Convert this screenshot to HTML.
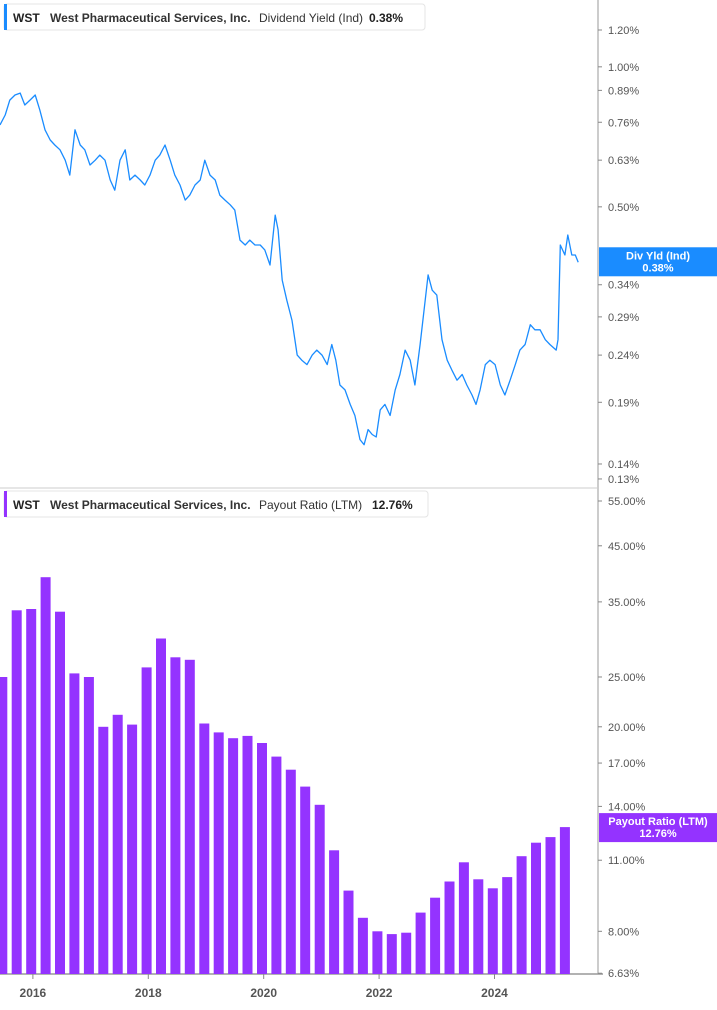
<!DOCTYPE html>
<html><head><meta charset="utf-8"><style>
body{margin:0;background:#fff;font-family:"Liberation Sans",sans-serif;}
svg text{font-family:"Liberation Sans",sans-serif;}
</style></head><body>
<svg id="c" width="717" height="1005" xmlns="http://www.w3.org/2000/svg">
</svg>
<script>
const yldDates=[2015.43,2015.52,2015.60,2015.69,2015.78,2015.86,2015.95,2016.04,2016.12,2016.21,2016.30,2016.38,2016.47,2016.56,2016.64,2016.73,2016.82,2016.90,2016.99,2017.08,2017.16,2017.25,2017.34,2017.42,2017.51,2017.60,2017.68,2017.77,2017.86,2017.94,2018.03,2018.12,2018.20,2018.29,2018.38,2018.46,2018.55,2018.64,2018.72,2018.81,2018.90,2018.98,2019.07,2019.16,2019.24,2019.33,2019.42,2019.50,2019.59,2019.68,2019.76,2019.85,2019.94,2020.02,2020.11,2020.20,2020.25,2020.32,2020.40,2020.49,2020.58,2020.66,2020.75,2020.84,2020.92,2021.01,2021.10,2021.18,2021.25,2021.32,2021.41,2021.50,2021.58,2021.67,2021.74,2021.81,2021.88,2021.95,2022.02,2022.10,2022.19,2022.28,2022.36,2022.45,2022.54,2022.62,2022.71,2022.80,2022.85,2022.92,2023.00,2023.09,2023.18,2023.26,2023.35,2023.44,2023.52,2023.61,2023.68,2023.75,2023.84,2023.92,2024.01,2024.10,2024.18,2024.27,2024.36,2024.44,2024.53,2024.62,2024.70,2024.79,2024.88,2024.96,2025.07,2025.10,2025.14,2025.22,2025.27,2025.34,2025.40,2025.45];
const yldValues=[0.750,0.788,0.848,0.870,0.878,0.828,0.848,0.870,0.808,0.732,0.696,0.679,0.663,0.630,0.585,0.732,0.679,0.663,0.615,0.630,0.646,0.630,0.571,0.543,0.630,0.663,0.571,0.585,0.571,0.557,0.585,0.630,0.646,0.679,0.630,0.585,0.557,0.517,0.530,0.557,0.571,0.630,0.585,0.571,0.530,0.517,0.505,0.492,0.424,0.414,0.424,0.414,0.414,0.404,0.375,0.480,0.446,0.348,0.315,0.285,0.240,0.234,0.229,0.240,0.246,0.240,0.229,0.253,0.234,0.207,0.202,0.188,0.178,0.158,0.154,0.166,0.162,0.160,0.183,0.188,0.178,0.202,0.218,0.246,0.234,0.207,0.253,0.315,0.357,0.331,0.323,0.259,0.234,0.223,0.212,0.218,0.207,0.197,0.188,0.202,0.229,0.234,0.229,0.207,0.197,0.212,0.229,0.246,0.253,0.279,0.272,0.272,0.259,0.253,0.246,0.259,0.414,0.394,0.435,0.394,0.394,0.380];
const yldTicks=[1.20,1.00,0.89,0.76,0.63,0.50,0.34,0.29,0.24,0.19,0.14,0.13];
const barDates=[2015.47,2015.72,2015.97,2016.22,2016.47,2016.72,2016.97,2017.22,2017.47,2017.72,2017.97,2018.22,2018.47,2018.72,2018.97,2019.22,2019.47,2019.72,2019.97,2020.22,2020.47,2020.72,2020.97,2021.22,2021.47,2021.72,2021.97,2022.22,2022.47,2022.72,2022.97,2023.22,2023.47,2023.72,2023.97,2024.22,2024.47,2024.72,2024.97,2025.22];
const barValues=[25.0,33.7,33.9,39.1,33.5,25.4,25.0,20.0,21.1,20.2,26.1,29.7,27.3,27.0,20.3,19.5,19.0,19.2,18.6,17.5,16.5,15.3,14.1,11.5,9.6,8.5,8.0,7.9,7.95,8.7,9.3,10.0,10.9,10.1,9.7,10.2,11.2,11.9,12.2,12.76];
const payTicks=[55,45,35,25,20,17,14,11,8,6.63];
const yearTicks=[2016,2018,2020,2022,2024];

const NS="http://www.w3.org/2000/svg";
const svg=document.getElementById('c');
function mk(tag,attrs,parent){const e=document.createElementNS(NS,tag);for(const k in attrs)e.setAttribute(k,attrs[k]);(parent||svg).appendChild(e);return e;}
const xS=d=>(d-2015.43)*57.7;
const y1=v=>30+(Math.log(1.2)-Math.log(v))*202;
const y2=v=>501+(Math.log(55)-Math.log(v))*223.2;

// axes lines
let e;
e=mk('line',{x1:598,y1:0,x2:598,y2:974,stroke:'#999','stroke-width':1});


e=mk('line',{x1:0,y1:488,x2:598,y2:488,stroke:'#ccc','stroke-width':1});


e=mk('line',{x1:0,y1:974,x2:603,y2:974,stroke:'#999','stroke-width':1.5});



// line series
let dstr=yldDates.map((d,i)=>(i?'L':'M')+xS(d).toFixed(1)+' '+y1(yldValues[i]).toFixed(1)).join(' ');
e=mk('path',{d:dstr,fill:'none',stroke:'#1a8cff','stroke-width':1.3,'stroke-linejoin':'round'});



// bars
barDates.forEach((d,i)=>{
  const x=xS(d), y=y2(barValues[i]);
  const b=mk('rect',{x:(x-5).toFixed(1),y:y.toFixed(1),width:10,height:(974-y).toFixed(1),fill:'#9433ff'});
  
  
});

// ticks
yldTicks.forEach(v=>{
  const y=y1(v);
  const t=mk('line',{x1:598,y1:y,x2:602,y2:y,stroke:'#888'});
  
  
  const l=mk('text',{x:608,y:y+4,'font-size':11,fill:'#555'});l.textContent=v.toFixed(2)+'%';
  
  
});
payTicks.forEach(v=>{
  const y=y2(v);
  const t=mk('line',{x1:598,y1:y,x2:602,y2:y,stroke:'#888'});
  
  
  const l=mk('text',{x:608,y:y+4,'font-size':11,fill:'#555'});l.textContent=v.toFixed(2)+'%';
  
  
});
yearTicks.forEach(yr=>{
  const x=xS(yr);
  const t=mk('line',{x1:x,y1:974,x2:x,y2:979,stroke:'#888'});
  
  
  const l=mk('text',{x:x,y:997,'font-size':12,'font-weight':'bold',fill:'#555','text-anchor':'middle'});l.textContent=yr;
  
  
});

// value badges
function badge(y,h,color,l1,l2,name){
  const g=mk('g',{});
  
  
  mk('rect',{x:599,y:y,width:118,height:h,fill:color},g);
  const a=mk('text',{x:658,y:y+12,'font-size':11,'font-weight':'bold',fill:'#fff','text-anchor':'middle'},g);a.textContent=l1;
  const b=mk('text',{x:658,y:y+24,'font-size':11,'font-weight':'bold',fill:'#fff','text-anchor':'middle'},g);b.textContent=l2;
}
badge(y1(yldValues[yldValues.length-1])-15,29,'#1a8cff','Div Yld (Ind)','0.38%','yield-value-badge');
badge(y2(barValues[barValues.length-1])-14,29,'#9433ff','Payout Ratio (LTM)','12.76%','payout-value-badge');

// legends
function legend(y,w,color,metric,val,name){
  const g=mk('g',{});
  
  
  mk('rect',{x:4,y:y,width:w,height:26,rx:3,fill:'#fff',stroke:'#e4e4e4'},g);
  mk('rect',{x:4,y:y,width:3,height:26,fill:color},g);
  let t=mk('text',{x:13,y:y+18,'font-size':12,'font-weight':'bold',fill:'#222'},g);t.textContent='WST';
  t=mk('text',{x:50,y:y+18,'font-size':12,'font-weight':'bold',fill:'#333'},g);t.textContent='West Pharmaceutical Services, Inc.';
  t=mk('text',{x:259,y:y+18,'font-size':12,fill:'#333'},g);t.textContent=metric;
  t=mk('text',{x:w-52,y:y+18,'font-size':12,'font-weight':'bold',fill:'#222'},g);t.textContent=val;
}
legend(4,421,'#1a8cff','Dividend Yield (Ind)','0.38%','yield-legend');
legend(491,424,'#9433ff','Payout Ratio (LTM)','12.76%','payout-legend');
</script>
</body></html>
